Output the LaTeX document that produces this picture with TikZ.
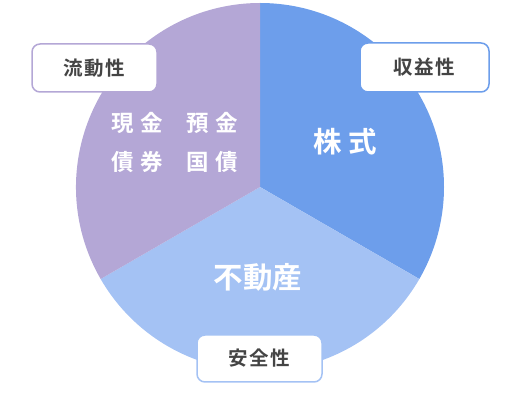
\documentclass[tikz,border=0pt]{standalone}
\usepackage{fontspec}
\newfontfamily\jp{Noto Sans CJK JP}[BoldFont={Noto Sans CJK JP Bold}]
\definecolor{cpurple}{HTML}{B4A7D6}
\definecolor{cblue}{HTML}{6D9EEB}
\definecolor{clight}{HTML}{A4C2F4}
\definecolor{ctext}{HTML}{444444}
\begin{document}
\begin{tikzpicture}[x=1pt,y=1pt,
  labelbox/.style={draw=#1, fill=white, line width=1.5pt, rounded corners=8pt, inner sep=0pt, font=\jp\bfseries\fontsize{19.5}{19.5}\selectfont, text=ctext},
  intext/.style={text=white, font=\jp\bfseries\fontsize{#1}{#1}\selectfont, inner sep=0pt}
]
\useasboundingbox (0,0) rectangle (520,410);
\coordinate (c) at (260,223);
\fill[cblue] (c) -- ++(90:184) arc[start angle=90, end angle=-30, radius=184] -- cycle;
\fill[clight] (c) -- ++(-30:184) arc[start angle=-30, end angle=-150, radius=184] -- cycle;
\fill[cpurple] (c) -- ++(210:184) arc[start angle=210, end angle=90, radius=184] -- cycle;

\node[intext=28.5] (kabu) at (345,268) {株\hspace{7pt}式};
\node[intext=29.5] (fudo) at (258,133) {不動産};
\node[intext=22.5] (genkin) at (137,287) {現\hspace{6.5pt}金};
\node[intext=22.5] (yokin) at (212,287) {預\hspace{6.5pt}金};
\node[intext=22.5] (saiken) at (137,248) {債\hspace{6.5pt}券};
\node[intext=22.5] (kokusai) at (212,248) {国\hspace{6.5pt}債};

\node[labelbox=cpurple, minimum width=125pt, minimum height=48pt] (ryudo) at (94.5,342) {流\hspace{1.5pt}動\hspace{1.5pt}性};
\node[labelbox=cblue, minimum width=129pt, minimum height=49pt] (shueki) at (424.5,342.5) {収\hspace{1.5pt}益\hspace{1.5pt}性};
\node[labelbox=clight, minimum width=125pt, minimum height=47pt] (anzen) at (259.5,51.5) {安\hspace{1.5pt}全\hspace{1.5pt}性};
\end{tikzpicture}
\end{document}
